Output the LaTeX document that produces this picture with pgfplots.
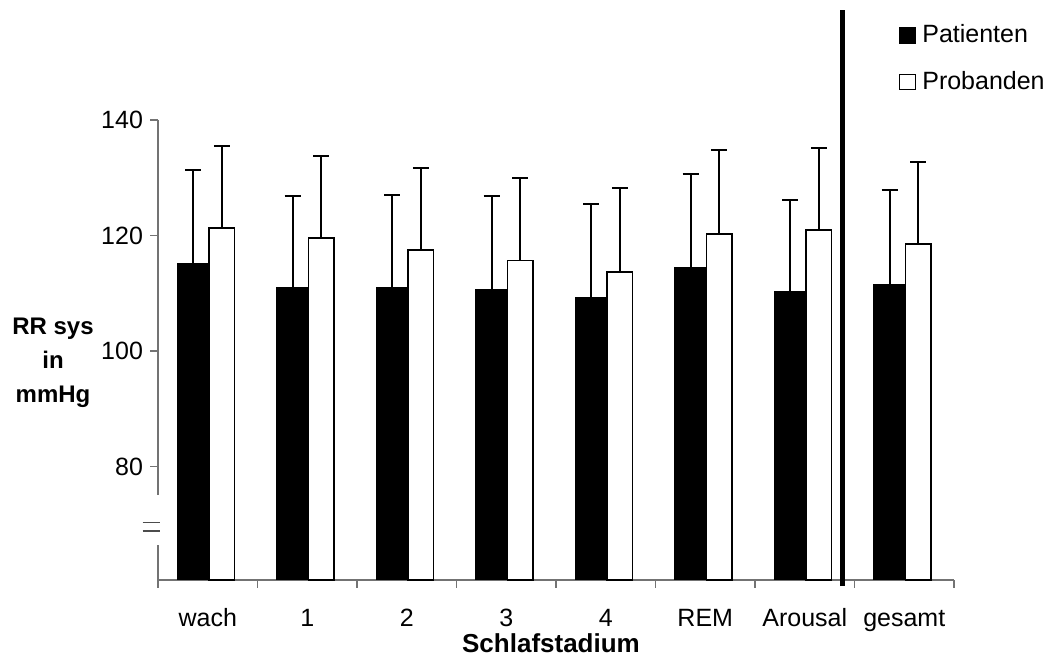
\documentclass[border=0pt]{standalone}
\usepackage{pgfplots}
\usepackage{pgfplotstable}
\pgfplotsset{compat=1.18}
\usepackage{fontspec}
\setmainfont{Liberation Sans}
\pgfplotstableread{
x  pat  patErr  prob  probErr
0  115.1 16.2  121.3 14.2
1  111.0 15.8  119.6 14.1
2  111.0 16.1  117.5 14.2
3  110.7 16.1  115.7 14.2
4  109.2 16.2  113.7 14.5
5  114.4 16.2  120.3 14.5
6  110.3 15.9  121.0 14.2
7  111.6 16.3  118.5 14.2
}\datatable
\begin{document}
\begin{tikzpicture}
\path[use as bounding box] (0,0) rectangle (529pt,334pt);
\begin{axis}[
  at={(79pt,44pt)}, anchor=south west,
  scale only axis, width=398pt, height=230pt,
  xmin=-0.5, xmax=7.5, ymin=60.38, ymax=140,
  axis x line=bottom, axis y line=left,
  axis line style={black!55, line width=0.6pt, -},
  xtick={0,...,7},
  xticklabels={wach,1,2,3,4,REM,Arousal,gesamt},
  minor xtick={-0.5,0.5,...,7.5},
  ytick={80,100,120,140},
  tick align=outside,
  major tick length=4pt, minor tick length=4pt,
  major x tick style={draw=none},
  tick style={black!55, line width=0.6pt},
  ticklabel style={font=\fontsize{12.5}{15}\selectfont},
  /pgf/number format/assume math mode=true,
  xticklabel style={anchor=base, yshift=-19.35pt},
  yticklabel style={anchor=east},
  xlabel={Schlafstadium},
  xlabel style={font=\fontsize{13}{15}\selectfont\bfseries, at={(rel axis cs:0.4937,-0.1575)}, anchor=base},
  ylabel={RR sys\\in\\mmHg},
  ylabel style={font=\fontsize{12}{17}\selectfont\bfseries, rotate=-90, align=center, at={(rel axis cs:-0.1319,0.472)}, anchor=center},
  legend style={at={(rel axis cs:0.9303,1.2142)}, anchor=north west, draw=none, fill=none, inner sep=0pt, row sep=9.85pt, font=\fontsize{12.5}{15}\selectfont, nodes={inner sep=1.5pt}},
  legend cell align=left,
  legend image code/.code={\draw[#1] (0pt,-3.75pt) rectangle (8pt,3.75pt); \path (9.6pt,0pt);},
  clip=false,
]
\addplot[ybar, forget plot, bar width=15.85pt, bar shift=0pt, fill=black, draw=black, line width=0pt,
  error bars/.cd, y dir=plus, y explicit,
  error bar style={line width=1pt, black},
  error mark options={line width=1pt, black, mark size=4pt, rotate=90}]
  table[x expr=\thisrow{x}-0.148, y=pat, y error=patErr] {\datatable};
\addplot[ybar, forget plot, bar width=12.75pt, bar shift=0pt, fill=white, draw=black, line width=0.75pt,
  error bars/.cd, y dir=plus, y explicit,
  error bar style={line width=1pt, black},
  error mark options={line width=1pt, black, mark size=4pt, rotate=90}]
  table[x expr=\thisrow{x}+0.143, y=prob, y error=probErr] {\datatable};
\addlegendimage{fill=black, draw=black, line width=0.6pt}
\addlegendentry{Patienten}
\addlegendimage{fill=white, draw=black, line width=0.6pt}
\addlegendentry{Probanden}
% axis break
\fill[white] (axis cs:-0.53,66.4) rectangle (axis cs:-0.47,75.1);
\draw[black!70, line width=0.6pt] (axis cs:-0.654,70.3) -- (axis cs:-0.48,70.3);
\draw[black!70, line width=0.6pt] (axis cs:-0.654,68.87) -- (axis cs:-0.48,68.87);
% separator
\draw[black, line width=2.6pt] (axis cs:6.38,59.34) -- (axis cs:6.38,159.05);
\end{axis}
\end{tikzpicture}
\end{document}
